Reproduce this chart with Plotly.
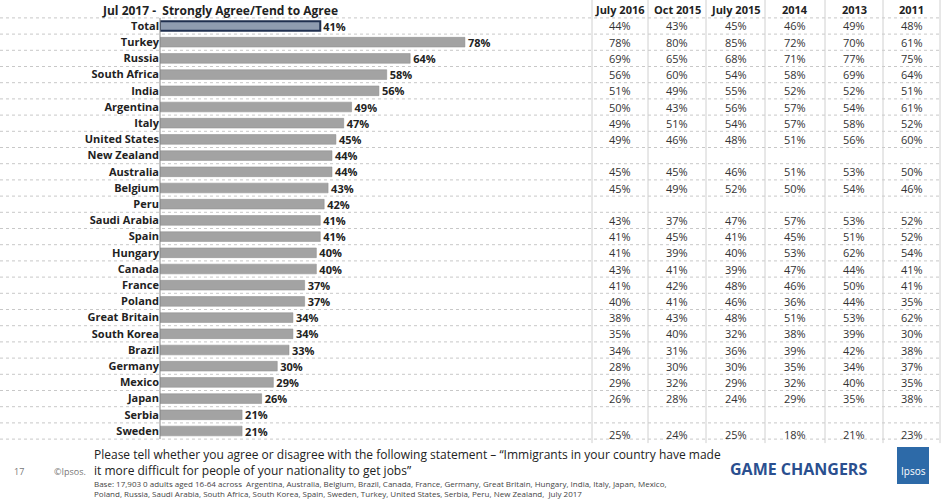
import plotly.graph_objects as go

W, H = 945, 502

countries = ["Total", "Turkey", "Russia", "South Africa", "India", "Argentina", "Italy",
             "United States", "New Zealand", "Australia", "Belgium", "Peru", "Saudi Arabia",
             "Spain", "Hungary", "Canada", "France", "Poland", "Great Britain", "South Korea",
             "Brazil", "Germany", "Mexico", "Japan", "Serbia", "Sweden"]
jul2017 = [41, 78, 64, 58, 56, 49, 47, 45, 44, 44, 43, 42, 41, 41, 40, 40, 37, 37, 34, 34,
           33, 30, 29, 26, 21, 21]

columns = ["July 2016", "Oct 2015", "July 2015", "2014", "2013", "2011"]
jul2016 = [44, 78, 69, 56, 51, 50, 49, 49, None, 45, 45, None, 43, 41, 41, 43, 41, 40, 38, 35, 34, 28, 29, 26, None, 25]
oct2015 = [43, 80, 65, 60, 49, 43, 51, 46, None, 45, 49, None, 37, 45, 39, 41, 42, 41, 43, 40, 31, 30, 32, 28, None, 24]
jul2015 = [45, 85, 68, 54, 55, 56, 54, 48, None, 46, 52, None, 47, 41, 40, 39, 48, 46, 48, 32, 36, 30, 29, 24, None, 25]
y2014 = [46, 72, 71, 58, 52, 57, 57, 51, None, 51, 50, None, 57, 45, 53, 47, 46, 36, 51, 38, 39, 35, 32, 29, None, 18]
y2013 = [49, 70, 77, 69, 52, 54, 58, 56, None, 53, 54, None, 53, 51, 62, 44, 50, 44, 53, 39, 42, 34, 40, 35, None, 21]
y2011 = [48, 61, 75, 64, 51, 61, 52, 60, None, 50, 46, None, 52, 52, 54, 41, 41, 35, 62, 30, 38, 37, 35, 38, None, 23]
table = [jul2016, oct2015, jul2015, y2014, y2013, y2011]

n = len(countries)
row_h = 16.2
top = 26 - row_h / 2
bottom = top + n * row_h
px = lambda x: x / W
py = lambda y: 1 - y / H

colors = ["#8f9cb0"] + ["#a3a3a3"] * (n - 1)
lines = ["#1f2f4f"] + ["#8a8a8a"] * (n - 1)

fig = go.Figure(go.Bar(
    x=jul2017, y=countries, orientation="h",
    marker=dict(color=colors, line=dict(color=lines, width=[2] + [0.5] * (n - 1))),
    width=0.6,
    text=[f"<b>{v}%</b>" for v in jul2017], textposition="outside", constraintext="none",
    textfont=dict(size=11, color="#222"), cliponaxis=False,
))

shapes = []
ann = []


def note(x, y, text, size, color, xanchor="center", align="center"):
    ann.append(dict(x=px(x), y=py(y), xref="paper", yref="paper", text=text,
                    xanchor=xanchor, yanchor="middle", align=align, showarrow=False,
                    font=dict(size=size, color=color)))


# horizontal dotted separators
for i in range(n + 1):
    y = top + i * row_h
    shapes.append(dict(type="line", xref="paper", yref="paper", x0=0, x1=px(940),
                       y0=py(y), y1=py(y), line=dict(color="#c8c8c8", width=1, dash="dot")))
# table vertical lines
col_edges = [592, 648, 706, 765, 825, 883, 940]
for x in col_edges:
    shapes.append(dict(type="line", xref="paper", yref="paper", x0=px(x), x1=px(x),
                       y0=py(0), y1=py(bottom + 4), line=dict(color="#d0d0d0", width=1)))
# bar axis line
shapes.append(dict(type="line", xref="paper", yref="paper", x0=px(160), x1=px(160),
                   y0=py(top), y1=py(bottom), line=dict(color="#888", width=1)))

for c, (name, vals) in enumerate(zip(columns, table)):
    xc = (col_edges[c] + col_edges[c + 1]) / 2
    note(xc, 10, f"<b>{name}</b>", 11, "#222")
    for i, v in enumerate(vals):
        if v is None:
            continue
        yy = 26 + i * row_h + (3 if i == n - 1 else 0)
        note(xc, yy, f"{v}%", 11, "#333")

note(100, 11, "<b>Jul 2017 -  Strongly Agree/Tend to Agree</b>", 12, "#222", "left")
note(92, 462, "Please tell whether you agree or disagree with the following statement – “Immigrants in your country have made<br>it more difficult for people of your nationality to get jobs”",
     12, "#222", "left", "left")
note(92, 488, "Base: 17,903 0 adults aged 16-64 across  Argentina, Australia, Belgium, Brazil, Canada, France, Germany, Great Britain, Hungary, India, Italy, Japan, Mexico,<br>Poland, Russia, Saudi Arabia, South Africa, South Korea, Spain, Sweden, Turkey, United States, Serbia, Peru, New Zealand,  July 2017",
     8, "#444", "left", "left")
note(12, 471, "17", 9, "#777", "left")
note(52, 471, "©Ipsos.", 9, "#777", "left")
note(798, 469, "<b>GAME CHANGERS</b>", 16, "#2a4f8f")
note(913, 471, "Ipsos", 10, "white")
shapes.append(dict(type="rect", xref="paper", yref="paper", x0=px(897), x1=px(929),
                   y0=py(484), y1=py(447), fillcolor="#2d6aa8", line=dict(width=0), layer="below"))

fig.update_layout(
    width=W, height=H, margin=dict(l=0, r=0, t=0, b=0, pad=0),
    paper_bgcolor="white", plot_bgcolor="white",
    font=dict(family="Open Sans, Liberation Sans, sans-serif"),
    showlegend=False, shapes=shapes, annotations=ann,
    xaxis=dict(domain=[px(160), px(590)], range=[0, 110], visible=False, fixedrange=True,
               automargin=False),
    yaxis=dict(domain=[py(bottom), py(top)], autorange="reversed", showgrid=False,
               automargin=False, tickfont=dict(size=11, color="#222"), ticks="",
               categoryorder="array", categoryarray=countries),
    bargap=0.4,
)
fig.update_yaxes(tickvals=countries, ticktext=[f"<b>{c}</b>" for c in countries])
fig.write_html("out.html", config={"displayModeBar": False},
               post_script="document.body.style.margin='0';")
